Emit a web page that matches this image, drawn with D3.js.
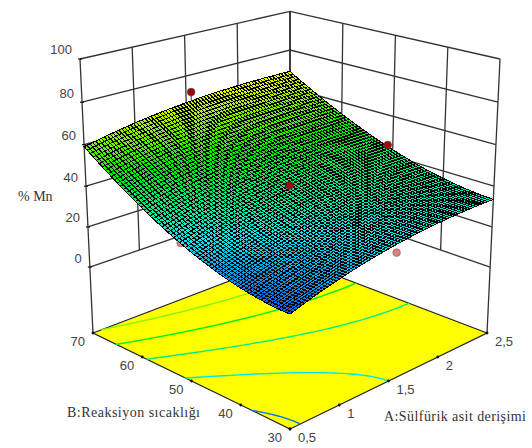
<!DOCTYPE html>
<html>
<head>
<meta charset="utf-8">
<script src="https://cdnjs.cloudflare.com/ajax/libs/d3/7.8.5/d3.min.js"></script>
<style>
html,body{margin:0;padding:0;background:#fff;}
svg{display:block;}
text{font-family:"Liberation Sans",Arial,sans-serif;font-size:13px;fill:#444;}
.title{font-family:"Liberation Serif","Times New Roman",serif;font-size:14px;fill:#333;}
</style>
</head>
<body>
<svg id="c" width="532" height="448"></svg>
<script>
// ---- Data ----
const sulfuricLevels = [0.5, 1, 1.5, 2, 2.5];
const sulfuricLabels = ["0,5", "1", "1,5", "2", "2,5"];
const tempLevels = [30, 40, 50, 60, 70];
const tempLabels = ["30", "40", "50", "60", "70"];
const mnTicks = [0, 20, 40, 60, 80, 100];
const contourLevels = [20, 30, 40, 50, 60];
// surface height: one row per sulfuric level, one column per temperature level
const mnAt05 = [18.4, 21.05, 28.7, 41.35, 59];
const mnAt10 = [25.2, 27.7, 34.95, 46.95, 63.7];
const mnAt15 = [30, 32.48, 39.45, 50.93, 66.9];
const mnAt20 = [32.8, 35.38, 42.2, 53.28, 68.6];
const mnAt25 = [33.6, 36.4, 43.2, 54, 68.8];
const surfaceRows = [mnAt05, mnAt10, mnAt15, mnAt20, mnAt25];
// measured design points
const pointA = [1.55, 2.5, 1.52, 0.5, 1.55];
const pointB = [70, 51, 50.5, 51.5, 30];
const pointZ = [71.5, 44.8, 41.8, 30.5, 26.5];
const pointBelow = [false, false, false, true, true];
const pointStem = [true, true, false, false, false];

// ---- Scales ----
const uScale = d3.scaleLinear().domain([0.5, 2.5]).range([0, 1]);
const vScale = d3.scaleLinear().domain([30, 70]).range([0, 1]);
const wScale = d3.scaleLinear().domain([-33.8, 100]).range([0, 1]);
const colorScale = d3.scaleLinear()
  .domain([18, 31, 50, 69])
  .range(["#0060f0", "#00f0f0", "#00f000", "#f8f800"]);

// ---- Perspective camera ----
const warp = t => t / (1.14 - 0.14 * t);
function project(a, b, z) {
  const u = warp(uScale(a)), v = warp(vScale(b)), w = wScale(z);
  const W = 1 + 0.14 * (u + v) - 0.0705 * w;
  return [290 + 224.6 * (u - v) / W, (429 - 49.4 * (u + v) - 316.5 * w) / W];
}
const zFloor = wScale.domain()[0], zTop = wScale.domain()[1];
const aMin = 0.5, aMax = 2.5, bMin = 30, bMax = 70;

// ---- Smooth surface through the table, for drawing ----
function lag(xs, x, i) {
  let p = 1;
  xs.forEach((xj, j) => { if (j !== i) p *= (x - xj) / (xs[i] - xj); });
  return p;
}
function height(a, b) {
  let s = 0;
  sulfuricLevels.forEach((_, i) => {
    const la = lag(sulfuricLevels, a, i);
    tempLevels.forEach((_, j) => { s += la * lag(tempLevels, b, j) * surfaceRows[i][j]; });
  });
  return s;
}

const svg = d3.select("#c");
const line = d3.line();

// ---- Walls ----
const wall = svg.append("g").attr("fill", "none").attr("stroke", "#333").attr("stroke-width", 1.3);
function pl(pts) { wall.append("path").attr("d", line(pts)); }
sulfuricLevels.forEach(a => {
  pl([project(a, bMax, a === aMin ? zFloor : 0), project(a, bMax, zTop)]);
});
tempLevels.forEach(b => {
  pl([project(aMax, b, b === bMin ? zFloor : 0), project(aMax, b, zTop)]);
});
mnTicks.forEach(z => {
  pl([project(aMin, bMax, z), project(aMax, bMax, z), project(aMax, bMin, z)]);
});
pl([project(aMax, bMax, zFloor), project(aMax, bMax, zTop)]);

// ---- Floor with contours ----
svg.append("path")
  .attr("d", line([project(aMin, bMin, zFloor), project(aMax, bMin, zFloor), project(aMax, bMax, zFloor), project(aMin, bMax, zFloor)]) + "Z")
  .attr("fill", "#ffff00").attr("stroke", "#222").attr("stroke-width", 1.2);

const gridN = 80;
const gridValues = [];
for (let j = 0; j < gridN; j++) for (let i = 0; i < gridN; i++) {
  gridValues.push(height(aMin + (aMax - aMin) * i / (gridN - 1), bMin + (bMax - bMin) * j / (gridN - 1)));
}
const cg = d3.contours().size([gridN, gridN]).thresholds(contourLevels).smooth(true)(gridValues);
const toA = x => aMin + (aMax - aMin) * Math.min(1, Math.max(0, (x - 0.5) / (gridN - 1)));
const toB = y => bMin + (bMax - bMin) * Math.min(1, Math.max(0, (y - 0.5) / (gridN - 1)));
const onEdge = p => p[0] <= 0.5 || p[0] >= gridN - 0.5 || p[1] <= 0.5 || p[1] >= gridN - 0.5;
cg.forEach(c => {
  let d = "";
  c.coordinates.forEach(poly => poly.forEach(ring => {
    for (let k = 0; k + 1 < ring.length; k++) {
      if (onEdge(ring[k]) && onEdge(ring[k + 1])) continue;
      const p = project(toA(ring[k][0]), toB(ring[k][1]), zFloor);
      const q = project(toA(ring[k + 1][0]), toB(ring[k + 1][1]), zFloor);
      d += line([p, q]);
    }
  }));
  svg.append("path").attr("d", d).attr("fill", "none")
    .attr("stroke", colorScale(c.value)).attr("stroke-width", 1.4).attr("stroke-linecap", "round");
});

// ---- Points ----
function drawPoints(below) {
  pointA.forEach((a, i) => {
    if (pointBelow[i] !== below) return;
    const p = project(a, pointB[i], pointZ[i]);
    if (pointStem[i]) {
      const s = project(a, pointB[i], height(a, pointB[i]));
      svg.append("path").attr("d", line([p, s])).attr("stroke", "#333").attr("stroke-width", 1);
    }
    svg.append("circle").attr("cx", p[0]).attr("cy", p[1]).attr("r", 3.8)
      .attr("fill", below ? "#d98080" : "#a80000").attr("stroke", below ? "#b06060" : "#444").attr("stroke-width", 0.8);
  });
}
drawPoints(true);

// ---- Surface ----
const meshN = 70;
const da = (aMax - aMin) / meshN, db = (bMax - bMin) / meshN;
const meshZ = d3.range(meshN + 1).map(i => d3.range(meshN + 1).map(j => height(aMin + i * da, bMin + j * db)));
const meshP = meshZ.map((row, i) => row.map((z, j) => project(aMin + i * da, bMin + j * db, z)));
const meshG = svg.append("g").attr("stroke", "#000").attr("stroke-width", 1).attr("shape-rendering", "crispEdges");
for (let i = meshN - 1; i >= 0; i--) {
  for (let j = meshN - 1; j >= 0; j--) {
    const corners = [meshP[i][j], meshP[i + 1][j], meshP[i + 1][j + 1], meshP[i][j + 1]];
    const mid = (meshZ[i][j] + meshZ[i + 1][j] + meshZ[i + 1][j + 1] + meshZ[i][j + 1]) / 4;
    meshG.append("path").attr("d", line(corners) + "Z").attr("fill", colorScale(mid));
  }
}
drawPoints(false);

// ---- Ticks and labels ----
const ticks = svg.append("g").attr("stroke", "#111").attr("stroke-width", 1.2);
mnTicks.forEach(z => {
  const p = project(aMin, bMax, z);
  ticks.append("line").attr("x1", p[0] - 2).attr("x2", p[0] + 2).attr("y1", p[1]).attr("y2", p[1]);
  svg.append("text").attr("x", p[0] - 8).attr("y", p[1] - 4.5).attr("text-anchor", "end").text(z);
});
tempLevels.forEach((b, i) => {
  const p = project(aMin, b, zFloor);
  ticks.append("circle").attr("cx", p[0]).attr("cy", p[1]).attr("r", 0.8);
  svg.append("text").attr("x", p[0] - 8).attr("y", p[1] + 13).attr("text-anchor", "end").text(tempLabels[i]);
});
sulfuricLevels.forEach((a, i) => {
  const p = project(a, bMin, zFloor);
  ticks.append("circle").attr("cx", p[0]).attr("cy", p[1]).attr("r", 0.8);
  svg.append("text").attr("x", p[0] + 8).attr("y", p[1] + 13).text(sulfuricLabels[i]);
});

svg.append("text").attr("class", "title").attr("x", 18).attr("y", 201).text("% Mn");
svg.append("text").attr("class", "title").attr("x", 67).attr("y", 417).attr("textLength", 133).text("B:Reaksiyon sıcaklığı");
svg.append("text").attr("class", "title").attr("x", 384).attr("y", 421).attr("textLength", 142).text("A:Sülfürik asit derişimi");
</script>
</body>
</html>
